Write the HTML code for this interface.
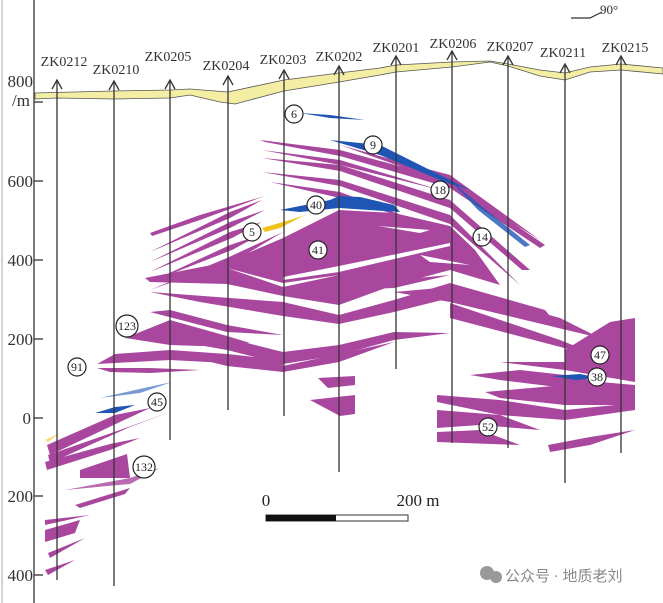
<!DOCTYPE html>
<html><head><meta charset="utf-8"><style>
html,body{margin:0;padding:0;background:#fff;}
svg{display:block;}
text{font-family:"Liberation Serif",serif;}
</style></head><body>
<svg width="663" height="603" viewBox="0 0 663 603" xmlns="http://www.w3.org/2000/svg">
<rect width="663" height="603" fill="#fff"/>
<line x1="2" y1="0" x2="2" y2="603" stroke="#aaa" stroke-width="1"/>
<!-- axis -->
<line x1="34" y1="0" x2="34" y2="603" stroke="#333" stroke-width="1.3"/>
<g stroke="#333" stroke-width="1.3">
<line x1="34" y1="102" x2="43" y2="102"/><line x1="34" y1="181" x2="43" y2="181"/><line x1="34" y1="260" x2="43" y2="260"/><line x1="34" y1="339" x2="43" y2="339"/><line x1="34" y1="418" x2="43" y2="418"/><line x1="34" y1="496" x2="43" y2="496"/><line x1="34" y1="575" x2="43" y2="575"/>
</g>
<g font-size="17" fill="#333" text-anchor="end">
<text x="33" y="87">800</text><text x="30" y="106">/m</text>
<text x="33" y="187">600</text><text x="33" y="266">400</text><text x="33" y="345">200</text><text x="31" y="424">0</text><text x="33" y="502">200</text><text x="33" y="581">400</text>
</g>
<!-- topography -->
<path d="M35,93 L114,91 L170,90 L190,89 L228,92 L284,80 L339,73 L380,68 L396,65 L452,62 L490,61 L508,64 L540,70 L565,73 L590,67 L621,64 L663,68 L663,74 L621,70 L590,72 L565,80 L540,76 L508,66 L490,62 L452,67 L396,72 L380,75 L339,82 L284,91 L235,104 L220,102 L190,95 L170,98 L114,99 L57,98 L35,99 Z" fill="#f3eea3" stroke="#555" stroke-width="0.8"/>
<!-- magenta bodies -->
<g fill="#a9479f">
<!-- body 41 -->
<path d="M145,278 L227,262 L283,238 L339,210 L394,213 L450,226 L475,250 L500,285 L450,270 L394,285 L339,305 L283,296 L227,284 L150,282 Z"/>
<!-- upper fan -->
<path d="M260,140 L340,150 L450,180 L545,245 L540,248 L450,188 L340,156 L265,142 Z"/>
<path d="M262,158 L340,165 L450,200 L530,270 L522,270 L450,208 L340,171 Z"/>
<path d="M262,172 L340,180 L450,215 L520,285 L450,224 L340,186 Z"/>
<path d="M270,182 L340,192 L420,222 L340,198 Z"/>
<path d="M340,145 L394,160 L450,175 L540,240 L450,184 Z"/>
<path d="M262,150 L340,160 L440,190 L340,165 Z"/>
<path d="M150,233 L200,215 L265,196 L200,220 L152,236 Z"/>
<path d="M150,252 L230,212 L262,200 L230,218 Z"/>
<path d="M150,262 L230,222 L265,210 L230,228 Z"/>
<path d="M150,272 L230,232 L262,222 L232,238 Z"/>
<path d="M150,282 L230,245 L260,235 L232,250 Z"/>
<path d="M150,290 L227,258 L283,232 L240,258 Z"/>
<!-- lower stripes under 41 -->
<path d="M150,292 L283,302 L339,315 L394,300 L450,283 L545,310 L560,328 L450,298 L394,312 L339,324 L283,316 L200,302 Z"/>
<path d="M394,292 L450,287 L560,318 L600,338 L450,302 Z"/>
<path d="M450,303 L560,340 L610,360 L450,318 Z"/>
<path d="M340,290 L394,280 L450,275 L394,288 Z"/>
<!-- band around 200m -->
<path d="M145,335 L170,328 L227,338 L283,352 L339,345 L394,332 L450,333 L394,340 L339,355 L283,364 L227,350 L170,340 Z"/>
<path d="M125,338 L170,320 L227,336 L250,343 L200,346 L170,345 Z"/>
<path d="M97,364 L115,354 L170,350 L227,354 L283,360 L283,366 L170,360 Z"/>
<path d="M97,368 L150,368 L200,370 L150,373 L110,372 Z"/>
<path d="M170,352 L227,360 L283,366 L339,354 L394,342 L339,362 L283,372 L227,366 Z"/>
<path d="M150,312 L170,310 L227,325 L283,335 L227,332 Z"/>
<!-- right group -->
<path d="M565,350 L610,322 L635,318 L635,382 L565,370 L500,362 L565,362 Z"/>
<path d="M470,375 L520,370 L565,375 L600,382 L635,385 L635,395 L565,388 L500,380 Z"/>
<path d="M485,392 L565,385 L600,390 L635,392 L635,405 L565,405 L500,398 Z"/>
<path d="M437,395 L500,400 L565,410 L635,403 L635,410 L565,420 L500,415 L437,402 Z"/>
<path d="M437,410 L500,415 L540,430 L480,425 L437,428 Z"/>
<path d="M437,432 L480,430 L520,445 L437,442 Z"/>
<path d="M548,445 L590,437 L635,430 L590,445 L550,452 Z"/>
<!-- center small -->
<path d="M318,378 L355,376 L355,385 L328,388 Z"/>
<path d="M310,400 L355,395 L355,414 L340,416 Z"/>
<!-- left lower -->
<path d="M47,445 L115,415 L150,408 L120,422 L50,455 Z"/>
<path d="M48,455 L120,430 L170,412 L130,427 L50,463 Z"/>
<path d="M45,462 L110,444 L140,438 L110,450 L47,470 Z"/>
<path d="M80,470 L127,454 L130,478 L80,478 Z"/>
<path d="M65,490 L130,478 L160,468 L130,484 Z" opacity="0.8"/>
<path d="M75,505 L130,488 L125,494 L80,508 Z"/>
<path d="M45,530 L80,520 L75,533 L45,542 Z"/>
<path d="M45,520 L90,515 L45,525 Z"/>
<path d="M48,553 L85,538 L50,558 Z"/>
<path d="M45,570 L75,560 L48,575 Z"/>
</g>
<!-- white gaps inside body 41 -->
<g fill="#fff">
<path d="M283,277 L339,266 L450,243 L450,246 L339,272 L283,280 Z"/>
<path d="M227,268 L283,283 L339,275 L283,287 Z"/>
<path d="M378,226 L430,230 L420,233 Z"/>
<path d="M420,255 L470,265 L430,262 Z"/>
</g>
<!-- blue bodies -->
<g fill="#1f56b5">
<path d="M300,113 L330,115 L365,120 L330,118 Z"/>
<path d="M330,140 L380,145 L440,175 L470,190 L445,182 L380,155 Z"/>
<path d="M280,210 L330,200 L339,196 L360,197 L394,205 L400,212 L339,208 L300,212 Z"/>
<path d="M95,413 L115,407 L135,405 L115,413 Z"/>
<path d="M552,376 L580,374 L600,378 L575,380 Z"/>
<path d="M450,180 L480,205 L530,245 L525,247 L478,210 Z" opacity="0.8"/>
<path d="M100,398 L135,390 L172,382 L140,393 Z" opacity="0.6"/>
</g>
<!-- yellow -->
<path d="M262,228 L290,220 L305,215 L280,228 L265,232 Z" fill="#f2c21a"/>
<path d="M45,440 L60,433 L48,442 Z" fill="#f2c21a" opacity="0.6"/>
<!-- drill holes -->
<g stroke="#333" stroke-width="1.3" fill="none">
<line x1="57" y1="80" x2="57" y2="580"/><path d="M52,89 L57,80 L62,89"/>
<line x1="114" y1="81" x2="114" y2="586"/><path d="M109,90 L114,81 L119,90"/>
<line x1="170" y1="80" x2="170" y2="440"/><path d="M165,89 L170,80 L175,89"/>
<line x1="228" y1="76" x2="228" y2="410"/><path d="M223,85 L228,76 L233,85"/>
<line x1="284" y1="70" x2="284" y2="416"/><path d="M279,79 L284,70 L289,79"/>
<line x1="339" y1="66" x2="339" y2="472"/><path d="M334,75 L339,66 L344,75"/>
<line x1="396" y1="56" x2="396" y2="369"/><path d="M391,65 L396,56 L401,65"/>
<line x1="452" y1="51" x2="452" y2="443"/><path d="M447,60 L452,51 L457,60"/>
<line x1="508" y1="56" x2="508" y2="448"/><path d="M503,65 L508,56 L513,65"/>
<line x1="565" y1="64" x2="565" y2="483"/><path d="M560,73 L565,64 L570,73"/>
<line x1="621" y1="56" x2="621" y2="453"/><path d="M616,65 L621,56 L626,65"/>
</g>
<g font-size="14" fill="#333" text-anchor="middle">
<text x="64" y="66">ZK0212</text><text x="116" y="74">ZK0210</text><text x="168" y="61">ZK0205</text><text x="226" y="70">ZK0204</text><text x="283" y="64">ZK0203</text><text x="339" y="61">ZK0202</text><text x="396" y="52">ZK0201</text><text x="453" y="48">ZK0206</text><text x="510" y="51">ZK0207</text><text x="563" y="57">ZK0211</text><text x="625" y="52">ZK0215</text>
</g>
<!-- north -->
<path d="M571,18 L590,18 L602,12" fill="none" stroke="#333" stroke-width="1.2"/>
<text x="600" y="14" font-size="13" fill="#333">90°</text>
<!-- labels -->
<g font-size="12" fill="#222" text-anchor="middle" stroke-width="1.2">
<g fill="#fff" stroke="#222">
<circle cx="294" cy="114" r="9"/><circle cx="373" cy="145" r="9"/><circle cx="440" cy="190" r="9"/><circle cx="316" cy="205" r="9"/><circle cx="252" cy="232" r="9"/><circle cx="318" cy="250" r="9"/><circle cx="482" cy="237" r="9"/>
<circle cx="127" cy="326" r="11"/><circle cx="77" cy="367" r="9"/><circle cx="157" cy="402" r="9"/><circle cx="144" cy="467" r="11"/><circle cx="600" cy="355" r="9"/><circle cx="597" cy="377" r="9"/><circle cx="488" cy="427" r="9"/>
</g>
<text x="294" y="118">6</text><text x="373" y="149">9</text><text x="440" y="194">18</text><text x="316" y="209">40</text><text x="252" y="236">5</text><text x="318" y="254">41</text><text x="482" y="241">14</text>
<text x="127" y="330">123</text><text x="77" y="371">91</text><text x="157" y="406">45</text><text x="144" y="471">132</text><text x="600" y="359">47</text><text x="597" y="381">38</text><text x="488" y="431">52</text>
</g>
<!-- scale bar -->
<text x="266" y="506" font-size="17" fill="#222" text-anchor="middle">0</text>
<text x="418" y="506" font-size="17" fill="#222" text-anchor="middle">200 m</text>
<rect x="266" y="515" width="142" height="6" fill="#fff" stroke="#333" stroke-width="1"/>
<rect x="266" y="515" width="70" height="6" fill="#111"/>
<!-- watermark -->
<g fill="#999">
<circle cx="487" cy="573" r="7"/><circle cx="496" cy="577" r="6"/>
</g>
<text x="505" y="581" font-size="15" fill="#888" font-family="'Liberation Sans','Noto Sans CJK SC',sans-serif">公众号 · 地质老刘</text>
</svg>
</body></html>
